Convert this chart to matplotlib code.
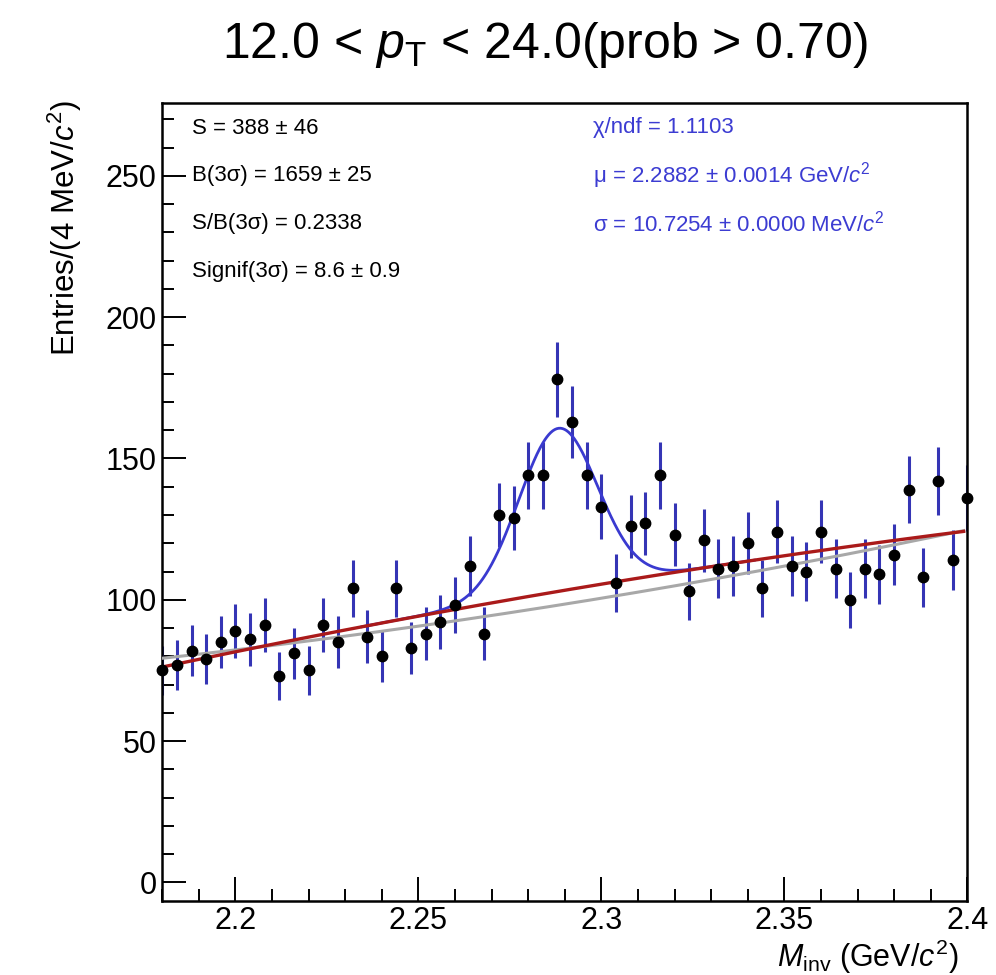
import numpy as np
import matplotlib
matplotlib.use("Agg")
import matplotlib.pyplot as plt
from matplotlib.ticker import MultipleLocator

plt.rcParams['font.family'] = ['Liberation Sans', 'DejaVu Sans']
plt.rcParams['mathtext.fontset'] = 'custom'
plt.rcParams['mathtext.rm'] = 'Liberation Sans'
plt.rcParams['mathtext.it'] = 'Liberation Sans:italic'
plt.rcParams['mathtext.bf'] = 'Liberation Sans:bold'

# ---- data ----
bin_start = 2.18          # GeV/c^2, first point position
bin_width = 0.004         # 4 MeV
counts = [75, 77, 82, 79, 85, 89, 86, 91, 73, 81, 75, 91, 85, 104, 87, 80, 104, 83, 88,
          92, 98, 112, 88, 130, 129, 144, 144, 178, 163, 144, 133, 106, 126, 127, 144, 123,
          103,
          121, 111, 112, 120, 104, 124, 112, 110, 124, 111, 100, 111, 109, 116, 139, 108, 142, 114, 136]

# fit results (polynomial in t = M - 2.18)
bkg_pars = [76.2, 275.0, -255.0]      # background of total fit (red)
sideband_pars = [79.3, 141.7, 294.8]  # sideband-only background (grey)
gaus_amp = 57.7
gaus_mu = 2.2882
gaus_sigma = 0.0107254

left_texts = ["S = 388 ± 46", "B(3σ) = 1659 ± 25",
              "S/B(3σ) = 0.2338", "Signif(3σ) = 8.6 ± 0.9"]
right_texts = ["χ/ndf = 1.1103",
               "μ = 2.2882 ± 0.0014 GeV/$c^{2}$",
               "σ = 10.7254 ± 0.0000 MeV/$c^{2}$"]

W, H = 996, 975
fig = plt.figure(figsize=(W / 100, H / 100), dpi=100)

def fx(px):
    return px / W

def fy(py):
    return 1 - py / H

L, R, T, B = 162.3, 967.3, 103.3, 900.7
ax = fig.add_axes([fx(L), fy(B), (R - L) / W, (B - T) / H])

x = bin_start + bin_width * np.arange(len(counts))
y = np.array(counts, dtype=float)
err = np.sqrt(y)

ax.errorbar(x, y, yerr=err, fmt='none', ecolor='#3535b5', elinewidth=2.2, capsize=0, zorder=2)

def poly(p, xx):
    t = xx - 2.18
    return p[0] + p[1] * t + p[2] * t ** 2

xx = np.linspace(2.18, 2.399, 600)
ax.plot(xx, poly(sideband_pars, xx), color='#a8a8a8', lw=2.2, zorder=3)
xg = np.linspace(gaus_mu - 5 * gaus_sigma, gaus_mu + 5 * gaus_sigma, 400)
ax.plot(xg, poly(bkg_pars, xg) + gaus_amp * np.exp(-0.5 * ((xg - gaus_mu) / gaus_sigma) ** 2),
        color='#3a3ad0', lw=2.0, zorder=4)
ax.plot(xx, poly(bkg_pars, xx), color='#aa1a1a', lw=2.4, zorder=5)

ax.plot(x, y, 'o', color='black', ms=7.5, zorder=6, clip_on=False)

ax.set_xlim(2.18, 2.4)
ax.set_ylim(-6.5, 275.7)
ax.xaxis.set_major_locator(MultipleLocator(0.05))
ax.xaxis.set_minor_locator(MultipleLocator(0.01))
ax.yaxis.set_major_locator(MultipleLocator(50))
ax.yaxis.set_minor_locator(MultipleLocator(10))
ax.set_xticks([2.2, 2.25, 2.3, 2.35, 2.4])
ax.set_xticklabels(['2.2', '2.25', '2.3', '2.35', '2.4'])
ax.tick_params(which='both', direction='in', top=False, right=False, width=1.4, labelsize=22)
ax.tick_params(which='major', length=17, pad=4)
ax.tick_params(which='minor', length=8.5)
ax.tick_params(axis='x', which='major', pad=4)
for s in ax.spines.values():
    s.set_linewidth(1.8)

# texts
fig.text(fx(545), fy(58), "12.0 < $p_{\\mathrm{T}}$ < 24.0(prob > 0.70)", fontsize=36,
         ha='center', va='baseline')
fig.text(fx(65), fy(100), "Entries/(4 MeV/$c^{2}$)", fontsize=22.5, rotation=90,
         ha='center', va='top')
fig.text(fx(958), fy(957), "$M_{\\mathrm{inv}}$ (GeV/$c^{2}$)", fontsize=22,
         ha='right', va='center')

for i, s in enumerate(left_texts):
    fig.text(fx(192), fy(128 + 47.7 * i), s, fontsize=16, ha='left', va='center', color='black')
for i, s in enumerate(right_texts):
    fig.text(fx(593), fy(128 + 47.7 * i), s, fontsize=16, ha='left', va='center', color='#3c3cd2')

fig.savefig('out.png', dpi=100)
